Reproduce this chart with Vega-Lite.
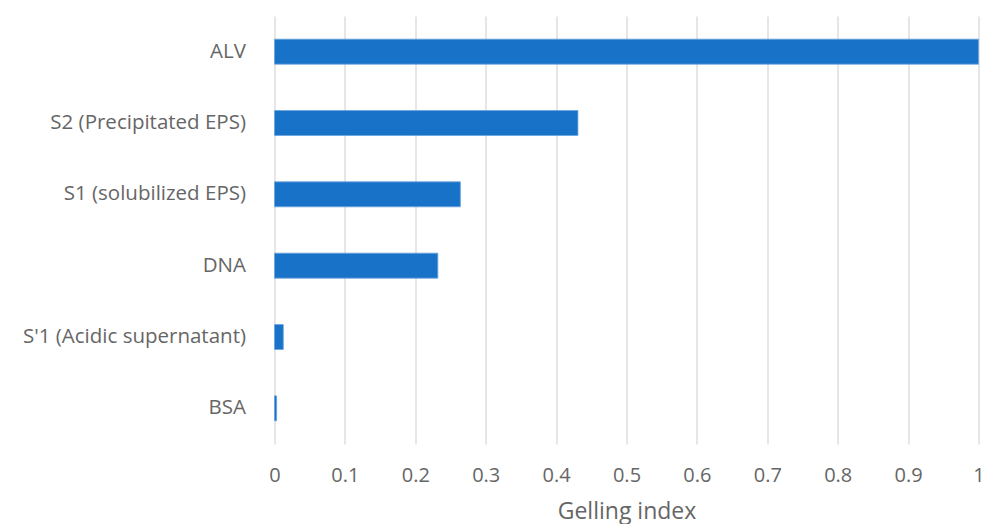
{
  "$schema": "https://vega.github.io/schema/vega-lite/v6.json",
  "autosize": "none",
  "width": 704,
  "height": 428,
  "padding": {"left": 274.5, "top": 16, "right": 2.5, "bottom": 80},
  "background": "white",
  "data": {"values": [
    {"sample": "ALV", "gi": 1.0},
    {"sample": "S2 (Precipitated EPS)", "gi": 0.431},
    {"sample": "S1 (solubilized EPS)", "gi": 0.264},
    {"sample": "DNA", "gi": 0.232},
    {"sample": "S'1 (Acidic supernatant)", "gi": 0.0125},
    {"sample": "BSA", "gi": 0.003}
  ]},
  "mark": {"type": "bar", "color": "#1772C8", "stroke": "#6aa3dd", "strokeWidth": 0.8},
  "encoding": {
    "y": {
      "field": "sample", "type": "nominal", "sort": null,
      "scale": {"paddingInner": 0.65, "paddingOuter": 0.325},
      "axis": {"title": null, "domain": false, "ticks": false, "labelPadding": 29, "labelFontSize": 20.5, "labelLimit": 0, "labelColor": "#666666", "labelFont": "Open Sans", "labelFontWeight": "normal", "grid": false}
    },
    "x": {
      "field": "gi", "type": "quantitative",
      "scale": {"domain": [0, 1], "nice": false},
      "axis": {"title": "Gelling index", "values": [0,0.1,0.2,0.3,0.4,0.5,0.6,0.7,0.8,0.9,1], "format": "~g", "domain": false, "ticks": false, "grid": true, "gridColor": "#d9d9d9", "gridWidth": 1.3, "labelPadding": 21, "labelFontSize": 20, "labelColor": "#666666", "labelFont": "Open Sans", "labelFlush": false, "titleFontSize": 23, "titleColor": "#666666", "titleFont": "Open Sans", "titleFontWeight": "normal", "titlePadding": 15}
    }
  },
  "config": {"view": {"stroke": null}}
}
